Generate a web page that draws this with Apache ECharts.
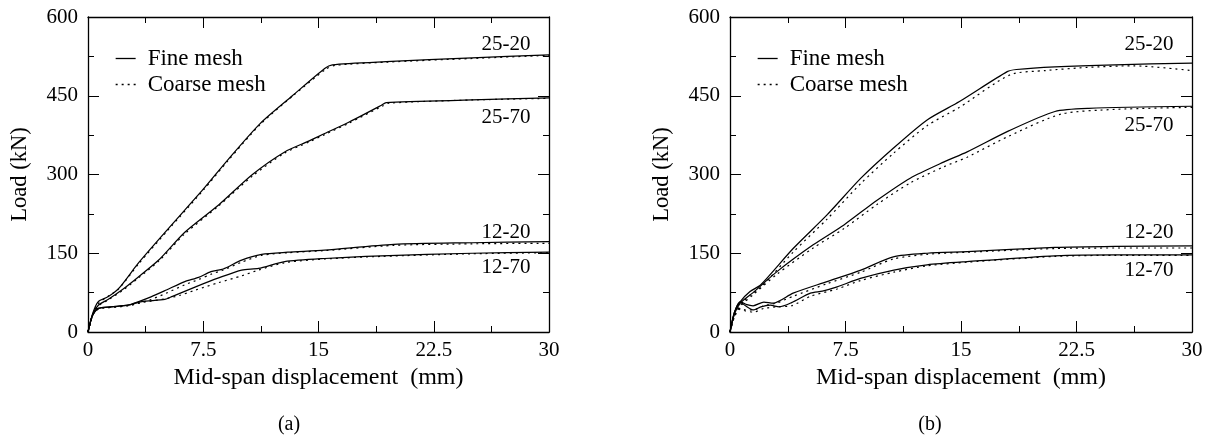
<!DOCTYPE html>
<html><head><meta charset="utf-8">
<script src="https://cdn.jsdelivr.net/npm/echarts@6/dist/echarts.min.js"></script>
<style>html,body{margin:0;padding:0;background:#fff}#c{width:1214px;height:440px}</style>
</head><body><div id="c"></div>
<script>
// ---- data (x: mid-span displacement mm, y: load kN) ----
const xTickLabels = ['0', '7.5', '15', '22.5', '30'];
const yTickLabels = ['0', '150', '300', '450', '600'];
const curveNames = ['25-20', '25-70', '12-20', '12-70'];

// panel (a)
const a_25_20_fine = [[0,0],[0.3,35],[0.67,58],[1.3,67],[2.0,83],[3.3,132],[5.2,196],[7.5,272],[9.1,328],[11.2,397],[13.3,450],[15.4,502],[15.9,509],[19.4,515],[25,522],[30,528]];
const a_25_20_coarse = [[0,0],[0.3,33],[0.7,55],[1.3,68],[2.0,82],[3.3,130],[5.2,194],[7.5,270],[9.1,326],[11.2,395],[13.3,449],[15.5,501],[16.1,508],[19.4,514],[25,521],[30,527]];
const a_25_70_fine = [[0,0],[0.3,33],[0.67,51],[1.3,62],[2.2,80],[3.2,103],[4.6,137],[6.3,190],[8.5,242],[10.7,300],[12.8,343],[14.4,364],[15.4,378],[17.0,400],[19.1,432],[19.4,437],[25,442],[30,446]];
const a_25_70_coarse = [[0,0],[0.3,32],[0.7,50],[1.3,61],[2.2,78],[3.2,101],[4.6,135],[6.3,187],[8.5,240],[10.7,297],[12.8,341],[14.4,362],[15.4,376],[17.0,398],[19.2,431],[19.6,436],[25,442],[30,445]];
const a_12_20_fine = [[0,0],[0.3,32],[0.67,45],[1.5,48],[2.6,51],[3.3,58],[4.1,67],[5.1,80],[6.3,96],[7.2,104],[8.0,115],[8.8,120],[10,137],[11.3,148],[13,152],[15.4,156],[19.9,167],[25,170],[30,172]];
const a_12_20_coarse = [[0,0],[0.3,31],[0.67,44],[1.5,47],[2.6,50],[3.3,55],[4.1,62],[5.1,74],[6.3,90],[7.2,100],[8.0,110],[8.8,118],[10,133],[11.3,146],[13,151],[15.4,155],[19.9,165],[25,168],[30,169]];
const a_12_70_fine = [[0,0],[0.3,32],[0.67,45],[1.5,48],[2.6,51],[3.5,58],[5.0,62],[5.5,68],[7.0,86],[8.5,103],[10,118],[11.1,121],[12.8,134],[15.4,140],[19.1,145],[25,150],[30,152]];
const a_12_70_coarse = [[0,0],[0.3,31],[0.67,44],[1.5,47],[2.6,50],[3.5,56],[5.0,63],[6.0,70],[7.0,80],[8.5,94],[10,107],[11.1,118],[12.8,132],[15.4,139],[19.1,144],[25,149],[30,151]];

// panel (b)
const b_25_20_fine = [[0,0],[0.3,38],[0.67,58],[1.3,77],[2.0,90],[4.1,159],[6.3,223],[8.5,293],[10.6,350],[12.8,404],[14.9,439],[18.0,496],[18.6,500],[21.1,505],[25,509],[30,512]];
const b_25_20_coarse = [[0,0],[0.3,35],[0.7,52],[1.3,70],[2.0,85],[4.1,152],[6.3,215],[8.5,283],[10.6,340],[12.8,393],[14.9,428],[18.2,490],[20.5,498],[23.2,504],[26.2,507],[30,498]];
const b_25_70_fine = [[0,0],[0.3,35],[0.67,55],[1.5,75],[3.05,115],[5.4,166],[7.4,204],[9.55,251],[11.7,293],[13.9,324],[15.4,343],[18.1,383],[21.1,420],[23.3,426],[30,430]];
const b_25_70_coarse = [[0,0],[0.3,32],[0.7,50],[1.5,71],[3.05,110],[5.4,160],[7.4,197],[9.55,243],[11.7,284],[13.9,315],[15.4,333],[18.1,373],[21.5,415],[25,424],[30,428]];
const b_12_20_fine = [[0,0],[0.3,38],[0.67,58],[1.1,52],[1.5,50],[2.2,57],[2.8,55],[4.1,74],[6.3,96],[8.5,118],[10.6,143],[12.8,150],[15.4,153],[21.1,161],[25,163],[30,164]];
const b_12_20_coarse = [[0,0],[0.3,30],[0.67,45],[1.0,42],[1.5,42],[2.2,50],[3.0,55],[4.1,68],[6.3,92],[8.5,114],[10.6,139],[12.8,148],[15.4,152],[21.1,159],[25,160],[30,160]];
const b_12_70_fine = [[0,0],[0.3,38],[0.67,57],[1.0,50],[1.54,42],[2.0,48],[2.62,51],[3.2,48],[4.0,56],[5.22,74],[6.0,78],[6.96,86],[8.47,102],[10.64,118],[12.8,128],[15.4,134],[21.1,145],[25,147],[30,147]];
const b_12_70_coarse = [[0,0],[0.3,30],[0.67,44],[1.0,40],[1.54,38],[2.2,45],[3.0,48],[4.0,50],[5.22,68],[6.96,82],[8.47,98],[10.64,114],[12.8,126],[15.4,133],[21.1,144],[25,146],[30,146]];

// curve-name label anchors (data coords)
const a_labelAnchors = [[27.2,547],[27.2,408],[27.2,190],[27.2,122]];
const b_labelAnchors = [[27.2,547],[27.2,394],[27.2,190],[27.2,118]];

// ---- chart ----
const FONT = '"Liberation Serif", "Times New Roman", serif';
const FS = 21;
const chart = echarts.init(document.getElementById('c'), null, {renderer: 'canvas'});

function xAxisCfg(grid, pos, labels) {
  return {
    type: 'value', gridIndex: grid, position: pos, min: 0, max: 30, interval: 7.5,
    axisLine: {show: true, onZero: false, lineStyle: {color: '#000', width: 1.3}},
    axisTick: {show: true, inside: true, length: 11, lineStyle: {color: '#000', width: 1}},
    minorTick: {show: true, splitNumber: 2, length: 6, lineStyle: {color: '#000', width: 1}},
    splitLine: {show: false},
    axisLabel: {show: labels, margin: 8, color: '#000', fontFamily: FONT, fontSize: FS,
      formatter: (v) => xTickLabels[Math.round(v / 7.5)]},
    name: labels ? 'Mid-span displacement  (mm)' : '', nameLocation: 'middle', nameGap: 26,
    nameTextStyle: {color: '#000', fontFamily: FONT, fontSize: 24}
  };
}
function yAxisCfg(grid, pos, labels) {
  return {
    type: 'value', gridIndex: grid, position: pos, min: 0, max: 600, interval: 150,
    axisLine: {show: true, onZero: false, lineStyle: {color: '#000', width: 1.3}},
    axisTick: {show: true, inside: true, length: 11, lineStyle: {color: '#000', width: 1}},
    minorTick: {show: true, splitNumber: 2, length: 6, lineStyle: {color: '#000', width: 1}},
    splitLine: {show: false},
    axisLabel: {show: labels, margin: 10, color: '#000', fontFamily: FONT, fontSize: FS,
      formatter: (v) => yTickLabels[Math.round(v / 150)]},
    name: labels ? 'Load (kN)' : '', nameLocation: 'middle', nameGap: 56, nameRotate: 90,
    nameTextStyle: {color: '#000', fontFamily: FONT, fontSize: 22.5}
  };
}

const panels = [
  {fine: [a_25_20_fine, a_25_70_fine, a_12_20_fine, a_12_70_fine],
   coarse: [a_25_20_coarse, a_25_70_coarse, a_12_20_coarse, a_12_70_coarse], labels: a_labelAnchors},
  {fine: [b_25_20_fine, b_25_70_fine, b_12_20_fine, b_12_70_fine],
   coarse: [b_25_20_coarse, b_25_70_coarse, b_12_20_coarse, b_12_70_coarse], labels: b_labelAnchors}
];

const series = [];
panels.forEach((p, i) => {
  p.fine.forEach((d) => series.push({
    type: 'line', name: 'Fine mesh', xAxisIndex: i * 2, yAxisIndex: i * 2, data: d,
    symbol: 'none', animation: false, silent: true, smooth: 0.25,
    lineStyle: {color: '#000', width: 1.25, type: 'solid'}, itemStyle: {color: '#000'}
  }));
  p.coarse.forEach((d) => series.push({
    type: 'line', name: 'Coarse mesh', xAxisIndex: i * 2, yAxisIndex: i * 2, data: d,
    symbol: 'none', animation: false, silent: true, smooth: 0.25,
    lineStyle: {color: '#000', width: 1.2, type: [2, 4]}, itemStyle: {color: '#000'}
  }));
  series.push({
    type: 'scatter', name: 'labels' + i, xAxisIndex: i * 2, yAxisIndex: i * 2,
    symbolSize: 0, silent: true, animation: false,
    itemStyle: {opacity: 1, color: '#000'},
    data: p.labels.map((v, k) => ({value: v, name: curveNames[k]})),
    label: {show: true, position: 'inside', formatter: (q) => q.name,
      color: '#000', fontFamily: FONT, fontSize: FS}
  });
});

function legendCfg(left) {
  return {
    data: ['Fine mesh', 'Coarse mesh'], orient: 'vertical', left: left, top: 47, padding: 0,
    itemWidth: 20, itemHeight: 8, itemGap: 3, selectedMode: false,
    textStyle: {color: '#000', fontFamily: FONT, fontSize: 23, padding: [0, 0, 0, 7]},
    itemStyle: {opacity: 0},
    lineStyle: {width: 1.3, color: '#000'}
  };
}

chart.setOption({
  backgroundColor: '#fff',
  animation: false,
  grid: [
    {left: 88, top: 17, width: 461, height: 315},
    {left: 730, top: 17, width: 462, height: 315}
  ],
  xAxis: [xAxisCfg(0, 'bottom', true), xAxisCfg(0, 'top', false),
          xAxisCfg(1, 'bottom', true), xAxisCfg(1, 'top', false)],
  yAxis: [yAxisCfg(0, 'left', true), yAxisCfg(0, 'right', false),
          yAxisCfg(1, 'left', true), yAxisCfg(1, 'right', false)],
  legend: [legendCfg(115), legendCfg(757)],
  series: series,
  graphic: [
    {type: 'text', x: 289, y: 425, style: {text: '(a)', textAlign: 'center', textVerticalAlign: 'middle', font: '20px ' + FONT, fill: '#000'}},
    {type: 'text', x: 930, y: 425, style: {text: '(b)', textAlign: 'center', textVerticalAlign: 'middle', font: '20px ' + FONT, fill: '#000'}}
  ]
});
</script></body></html>
